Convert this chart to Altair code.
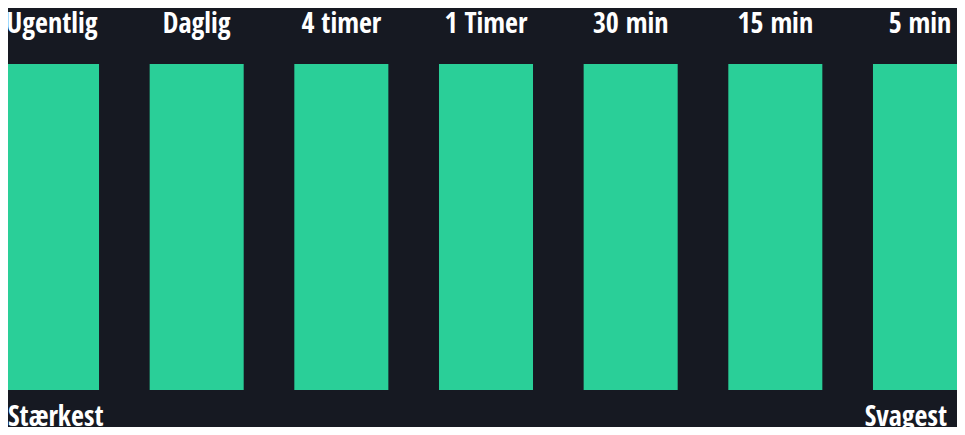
import altair as alt
import pandas as pd

timeframes = ["Ugentlig", "Daglig", "4 timer", "1 Timer", "30 min", "15 min", "5 min"]
bar_values = [1, 1, 1, 1, 1, 1, 1]
end_labels = ["Stærkest", "Svagest"]

BG = "#161922"
GREEN = "#2ACF98"
FONT = "Open Sans Condensed, Roboto Condensed, sans-serif"
FS = 28
FW = 600

bars_df = pd.DataFrame({"tf": timeframes, "v": bar_values})

x_scale = alt.Scale(domain=timeframes, range=[-3, 959], paddingInner=0.35, paddingOuter=0)
y_scale = alt.Scale(domain=[0, 1], range=[382, 56])

base = alt.Chart(bars_df)

bars = base.mark_bar(color=GREEN, cornerRadius=0).encode(
    x=alt.X("tf:N", scale=x_scale, axis=None, sort=timeframes),
    y=alt.Y("v:Q", scale=y_scale, axis=None),
    y2=alt.datum(0),
)

top_labels = base.mark_text(
    font=FONT, fontSize=FS, fontWeight=FW, color="#FFFFFF",
    baseline="alphabetic", align="center",
).encode(
    x=alt.X("tf:N", scale=x_scale, axis=None, sort=timeframes, bandPosition=0.5),
    y=alt.value(25),
    text="tf:N",
)

left_lab = alt.Chart(pd.DataFrame({"t": [end_labels[0]]})).mark_text(
    font=FONT, fontSize=FS, fontWeight=FW, color="#FFFFFF",
    baseline="alphabetic", align="left",
).encode(x=alt.value(0), y=alt.value(418), text="t:N")

right_lab = alt.Chart(pd.DataFrame({"t": [end_labels[1]]})).mark_text(
    font=FONT, fontSize=FS, fontWeight=FW, color="#FFFFFF",
    baseline="alphabetic", align="right",
).encode(x=alt.value(939), y=alt.value(418), text="t:N")

chart = alt.layer(bars, top_labels, left_lab, right_lab).properties(
    width=949, height=419,
    autosize=alt.AutoSizeParams(type="none"),
    padding=0,
    background=BG,
).configure_view(stroke=None, fill=BG)

chart.save("out.html", embed_options={"renderer": "svg", "actions": False})
